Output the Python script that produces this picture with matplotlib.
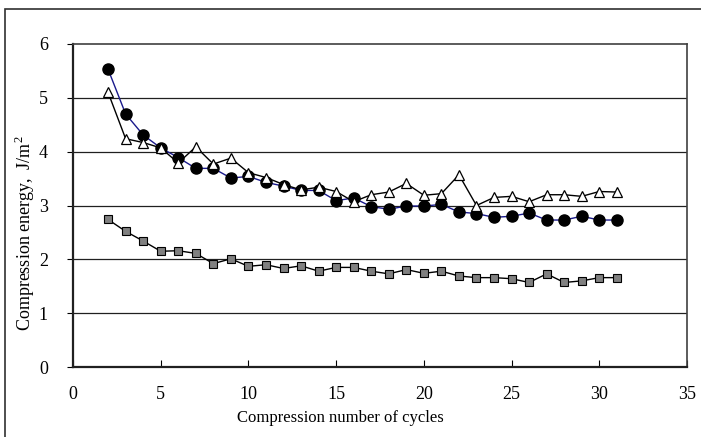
import numpy as np
import matplotlib.pyplot as plt
from matplotlib.patches import Rectangle

plt.rcParams['font.family'] = 'Liberation Serif'
plt.rcParams['mathtext.fontset'] = 'custom'
plt.rcParams['mathtext.rm'] = 'Liberation Serif'

# Compression cycle number
cycles = np.arange(2, 32)

# Compression energy (J/m^2) per series
energy_circle = [5.53, 4.70, 4.31, 4.07, 3.89, 3.69, 3.69, 3.51, 3.54, 3.43,
                 3.36, 3.28, 3.28, 3.09, 3.14, 2.98, 2.93, 2.99, 2.99, 3.02,
                 2.88, 2.85, 2.78, 2.80, 2.86, 2.73, 2.73, 2.80, 2.73, 2.73]
energy_triangle = [5.10, 4.24, 4.17, 4.07, 3.79, 4.09, 3.77, 3.88, 3.61, 3.52,
                   3.39, 3.29, 3.34, 3.26, 3.07, 3.20, 3.25, 3.41, 3.19, 3.22,
                   3.57, 3.00, 3.15, 3.17, 3.07, 3.20, 3.20, 3.17, 3.26, 3.25]
energy_square = [2.74, 2.52, 2.34, 2.15, 2.16, 2.11, 1.92, 2.01, 1.87, 1.90,
                 1.83, 1.88, 1.78, 1.85, 1.85, 1.78, 1.73, 1.81, 1.74, 1.78,
                 1.69, 1.66, 1.66, 1.64, 1.57, 1.73, 1.57, 1.60, 1.66, 1.66]

fig = plt.figure(figsize=(7.01, 4.37), dpi=100)
ax = fig.add_axes([73 / 701, 70 / 437, 614 / 701, 323 / 437])

# outer chart frame
fig.patches.append(Rectangle((5 / 701, -0.05), 1.0, 1 - 9 / 437 + 0.05,
                             transform=fig.transFigure, fill=False,
                             edgecolor='#303030', linewidth=1.2))

for yv in [1, 2, 3, 4, 5]:
    ax.axhline(yv, color='#202020', linewidth=0.9, zorder=1)

ax.plot(cycles, energy_square, color='black', linewidth=1.0, marker='s',
        markersize=5.5, markerfacecolor='#808080', markeredgecolor='black',
        markeredgewidth=0.8, zorder=3)
ax.plot(cycles, energy_circle, color='#1a1a8c', linewidth=1.0, marker='o',
        markersize=8, markerfacecolor='black', markeredgecolor='black',
        zorder=4)
ax.plot(cycles, energy_triangle, color='black', linewidth=1.0, marker='^',
        markersize=7.5, markerfacecolor='white', markeredgecolor='black',
        markeredgewidth=0.9, zorder=5)

ax.set_xlim(0, 35)
ax.set_ylim(0, 6)
ax.set_xticks(range(0, 36, 5))
ax.set_yticks(range(0, 7))
ax.tick_params(axis='x', direction='in', length=5, pad=14, labelsize=13)
ax.tick_params(axis='y', direction='out', length=4, pad=14, labelsize=13)
for side in ['left', 'bottom']:
    ax.spines[side].set_linewidth(1.6)
    ax.spines[side].set_color('#202020')
for side in ['top', 'right']:
    ax.spines[side].set_linewidth(1.2)
    ax.spines[side].set_color('#404040')

ax.set_xlabel('Compression number of cycles', fontsize=12)
ax.set_ylabel('Compression energy,  J/m$^2$', fontsize=13)
ax.xaxis.set_label_coords(0.436, -0.133)
ax.yaxis.set_label_coords(-0.058, 0.415)

fig.savefig('out.png', dpi=100)
